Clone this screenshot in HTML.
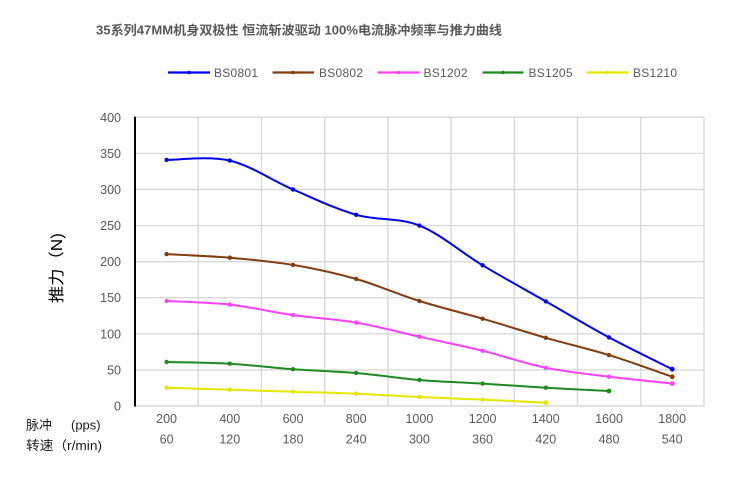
<!DOCTYPE html>
<html>
<head>
<meta charset="utf-8">
<style>
html,body{margin:0;padding:0;background:#fff;}
svg{display:block;}
text{font-family:"Liberation Sans","Noto Sans CJK SC",sans-serif;}
</style>
</head>
<body>
<svg width="750" height="480" viewBox="0 0 750 480" xmlns="http://www.w3.org/2000/svg">
<rect x="0" y="0" width="750" height="480" fill="#fff"/>

<!-- Title -->
<text x="96" y="34.5" font-size="12.5" font-weight="bold" fill="#595959" textLength="406" lengthAdjust="spacingAndGlyphs">35系列47MM机身双极性 恒流斩波驱动 100%电流脉冲频率与推力曲线</text>

<!-- Legend -->
<g stroke-width="2.2" font-size="12" fill="#595959">
  <line x1="168" y1="72.5" x2="210" y2="72.5" stroke="#0000FF"/>
  <circle cx="189" cy="72.5" r="1.8" fill="#0000FF" stroke="none"/>
  <text x="214" y="77" stroke="none" textLength="44">BS0801</text>

  <line x1="272.5" y1="72.5" x2="314" y2="72.5" stroke="#843C0C"/>
  <circle cx="293" cy="72.5" r="1.8" fill="#843C0C" stroke="none"/>
  <text x="319" y="77" stroke="none" textLength="44">BS0802</text>

  <line x1="377.5" y1="72.5" x2="419.5" y2="72.5" stroke="#FF40FF"/>
  <circle cx="398.5" cy="72.5" r="1.8" fill="#FF40FF" stroke="none"/>
  <text x="423.5" y="77" stroke="none" textLength="44">BS1202</text>

  <line x1="482.5" y1="72.5" x2="523.5" y2="72.5" stroke="#1E8A1E"/>
  <circle cx="503" cy="72.5" r="1.8" fill="#1E8A1E" stroke="none"/>
  <text x="528.5" y="77" stroke="none" textLength="44">BS1205</text>

  <line x1="586.5" y1="72.5" x2="628.5" y2="72.5" stroke="#E6E600"/>
  <circle cx="607.5" cy="72.5" r="1.8" fill="#E6E600" stroke="none"/>
  <text x="633" y="77" stroke="none" textLength="44">BS1210</text>
</g>

<!-- Grid -->
<g stroke="#D9D9D9" stroke-width="1.4" fill="none">
  <line x1="135" y1="117.3" x2="704" y2="117.3"/>
  <line x1="135" y1="153.4" x2="704" y2="153.4"/>
  <line x1="135" y1="189.5" x2="704" y2="189.5"/>
  <line x1="135" y1="225.6" x2="704" y2="225.6"/>
  <line x1="135" y1="261.7" x2="704" y2="261.7"/>
  <line x1="135" y1="297.7" x2="704" y2="297.7"/>
  <line x1="135" y1="333.8" x2="704" y2="333.8"/>
  <line x1="135" y1="369.9" x2="704" y2="369.9"/>
  <line x1="135" y1="406" x2="704" y2="406"/>
  <line x1="198.2" y1="117.3" x2="198.2" y2="406"/>
  <line x1="261.4" y1="117.3" x2="261.4" y2="406"/>
  <line x1="324.7" y1="117.3" x2="324.7" y2="406"/>
  <line x1="387.9" y1="117.3" x2="387.9" y2="406"/>
  <line x1="451.1" y1="117.3" x2="451.1" y2="406"/>
  <line x1="514.3" y1="117.3" x2="514.3" y2="406"/>
  <line x1="577.5" y1="117.3" x2="577.5" y2="406"/>
  <line x1="640.8" y1="117.3" x2="640.8" y2="406"/>
  <line x1="704" y1="117.3" x2="704" y2="406"/>
</g>
<line x1="135" y1="116.8" x2="135" y2="406.5" stroke="#000" stroke-width="2"/>

<!-- Y tick labels -->
<g font-size="12.5" fill="#595959" text-anchor="end">
  <text x="121" y="121.8">400</text>
  <text x="121" y="157.9">350</text>
  <text x="121" y="194">300</text>
  <text x="121" y="230.1">250</text>
  <text x="121" y="266.2">200</text>
  <text x="121" y="302.2">150</text>
  <text x="121" y="338.3">100</text>
  <text x="121" y="374.4">50</text>
  <text x="121" y="410.5">0</text>
</g>

<!-- X tick labels -->
<g font-size="12.5" fill="#595959" text-anchor="middle">
  <text x="166.6" y="422.8">200</text>
  <text x="229.8" y="422.8">400</text>
  <text x="293" y="422.8">600</text>
  <text x="356.2" y="422.8">800</text>
  <text x="419.4" y="422.8">1000</text>
  <text x="482.6" y="422.8">1200</text>
  <text x="545.8" y="422.8">1400</text>
  <text x="609" y="422.8">1600</text>
  <text x="672.2" y="422.8">1800</text>
  <text x="166.6" y="443.6">60</text>
  <text x="229.8" y="443.6">120</text>
  <text x="293" y="443.6">180</text>
  <text x="356.2" y="443.6">240</text>
  <text x="419.4" y="443.6">300</text>
  <text x="482.6" y="443.6">360</text>
  <text x="545.8" y="443.6">420</text>
  <text x="609" y="443.6">480</text>
  <text x="672.2" y="443.6">540</text>
</g>

<!-- Bottom-left labels -->
<g font-size="13" fill="#1a1a1a">
  <text x="26" y="429.6" textLength="26">脉冲</text>
  <text x="71" y="429.6" font-size="13">(pps)</text>
  <text x="26" y="449.8" textLength="76" lengthAdjust="spacingAndGlyphs">转速（r/min)</text>
</g>

<!-- Y axis title -->
<text transform="translate(62,303) rotate(-90)" x="0" y="0" font-size="16" fill="#000" textLength="70" lengthAdjust="spacingAndGlyphs">推力（N)</text>

<!-- Series -->
<g fill="none" stroke-width="2" stroke-linejoin="round" stroke-linecap="round">
  <path stroke="#0000FF" d="M166.6,159.9 C177.1,160.0 208.7,155.7 229.8,160.6 C250.9,165.5 271.9,180.5 293,189.5 C314.1,198.5 335.1,208.8 356.2,214.8 C377.3,220.8 398.3,217.2 419.4,225.6 C440.5,234.0 461.5,252.7 482.6,265.3 C503.7,277.9 524.7,289.4 545.8,301.4 C566.9,313.4 587.9,326.1 609,337.4 C630.1,348.7 661.7,363.9 672.2,369.2"/>
  <path stroke="#843C0C" d="M166.6,254.1 C177.1,254.7 208.7,255.9 229.8,257.7 C250.9,259.5 271.9,261.4 293,264.9 C314.1,268.5 335.1,273.0 356.2,279.0 C377.3,285.0 398.3,294.4 419.4,301.0 C440.5,307.6 461.5,312.6 482.6,318.7 C503.7,324.8 524.7,331.7 545.8,337.8 C566.9,343.9 587.9,348.6 609,355.1 C630.1,361.6 661.7,373.2 672.2,376.8"/>
  <path stroke="#FF40FF" d="M166.6,301.0 C177.1,301.6 208.7,302.3 229.8,304.6 C250.9,306.95 271.9,312.1 293,315.1 C314.1,318.1 335.1,319.0 356.2,322.6 C377.3,326.2 398.3,332.0 419.4,336.7 C440.5,341.4 461.5,345.6 482.6,350.8 C503.7,356.0 524.7,363.5 545.8,367.8 C566.9,372.1 587.9,374.1 609,376.7 C630.1,379.3 661.7,382.45 672.2,383.6"/>
  <path stroke="#1E8A1E" d="M166.6,362.0 C177.1,362.3 208.7,362.5 229.8,363.7 C250.9,364.9 271.9,367.65 293,369.2 C314.1,370.75 335.1,371.2 356.2,373.0 C377.3,374.8 398.3,378.2 419.4,380.0 C440.5,381.8 461.5,382.3 482.6,383.6 C503.7,384.9 524.7,386.5 545.8,387.7 C566.9,388.9 598.5,390.45 609,391.0"/>
  <path stroke="#E6E600" d="M166.6,387.7 C177.1,388.0 208.7,389.0 229.8,389.7 C250.9,390.4 271.9,391.0 293,391.7 C314.1,392.4 335.1,392.8 356.2,393.7 C377.3,394.6 398.3,396.0 419.4,397.0 C440.5,398.0 461.5,398.65 482.6,399.6 C503.7,400.55 535.3,402.2 545.8,402.7"/>
</g>

<!-- Markers -->
<g fill="#0000FF">
  <circle cx="166.6" cy="159.9" r="2.2"/><circle cx="229.8" cy="160.6" r="2.2"/><circle cx="293" cy="189.5" r="2.2"/><circle cx="356.2" cy="214.8" r="2.2"/><circle cx="419.4" cy="225.6" r="2.2"/><circle cx="482.6" cy="265.3" r="2.2"/><circle cx="545.8" cy="301.4" r="2.2"/><circle cx="609" cy="337.4" r="2.2"/><circle cx="672.2" cy="369.2" r="2.4"/>
</g>
<g fill="#843C0C">
  <circle cx="166.6" cy="254.1" r="2.2"/><circle cx="229.8" cy="257.7" r="2.2"/><circle cx="293" cy="264.9" r="2.2"/><circle cx="356.2" cy="279.0" r="2.2"/><circle cx="419.4" cy="301.0" r="2.2"/><circle cx="482.6" cy="318.7" r="2.2"/><circle cx="545.8" cy="337.8" r="2.2"/><circle cx="609" cy="355.1" r="2.2"/><circle cx="672.2" cy="376.8" r="2.4"/>
</g>
<g fill="#FF40FF">
  <circle cx="166.6" cy="301.0" r="2.2"/><circle cx="229.8" cy="304.6" r="2.2"/><circle cx="293" cy="315.1" r="2.2"/><circle cx="356.2" cy="322.6" r="2.2"/><circle cx="419.4" cy="336.7" r="2.2"/><circle cx="482.6" cy="350.8" r="2.2"/><circle cx="545.8" cy="367.8" r="2.2"/><circle cx="609" cy="376.7" r="2.2"/><circle cx="672.2" cy="383.6" r="2.4"/>
</g>
<g fill="#1E8A1E">
  <circle cx="166.6" cy="362.0" r="2.2"/><circle cx="229.8" cy="363.7" r="2.2"/><circle cx="293" cy="369.2" r="2.2"/><circle cx="356.2" cy="373.0" r="2.2"/><circle cx="419.4" cy="380.0" r="2.2"/><circle cx="482.6" cy="383.6" r="2.2"/><circle cx="545.8" cy="387.7" r="2.2"/><circle cx="609" cy="391.0" r="2.4"/>
</g>
<g fill="#E6E600">
  <circle cx="166.6" cy="387.7" r="2.2"/><circle cx="229.8" cy="389.7" r="2.2"/><circle cx="293" cy="391.7" r="2.2"/><circle cx="356.2" cy="393.7" r="2.2"/><circle cx="419.4" cy="397.0" r="2.2"/><circle cx="482.6" cy="399.6" r="2.2"/><circle cx="545.8" cy="402.7" r="2.4"/>
</g>
</svg>
</body>
</html>
